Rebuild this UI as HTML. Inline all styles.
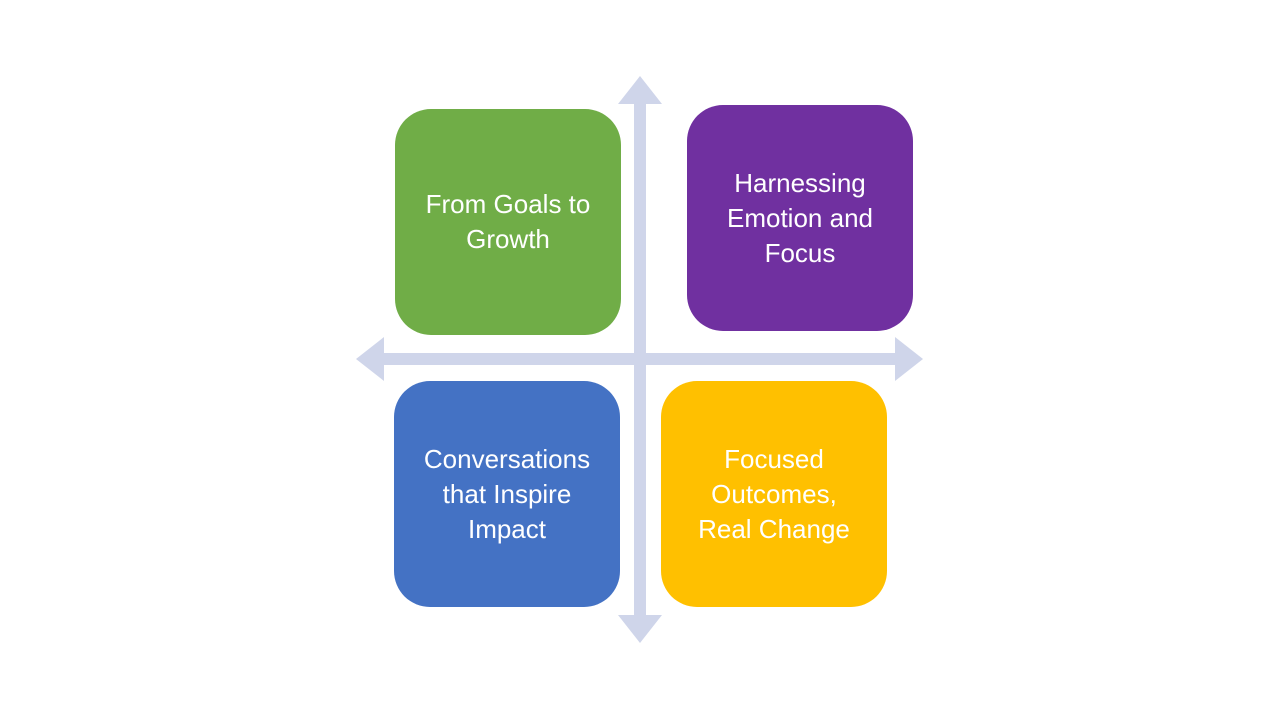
<!DOCTYPE html>
<html><head><style>
body{margin:0;width:1280px;height:720px;background:#fff;position:relative;overflow:hidden;font-family:"Liberation Sans",sans-serif}
.b{position:absolute;width:226px;height:226px;border-radius:36px;color:#fff;display:flex;align-items:center;justify-content:center;text-align:center;font-size:26px;line-height:35px}
</style></head><body>
<svg width="1280" height="720" style="position:absolute;left:0;top:0">
<g fill="#cfd5ea">
<rect x="634" y="100" width="12" height="520"/>
<polygon points="640,76 662,104 618,104"/>
<polygon points="640,643 662,615 618,615"/>
<rect x="380" y="353" width="520" height="12"/>
<polygon points="356,359 384,337 384,381"/>
<polygon points="923,359 895,337 895,381"/>
</g></svg>
<div class="b" style="left:395px;top:109px;background:#70ad47">From Goals to<br>Growth</div>
<div class="b" style="left:687px;top:105px;background:#7030a0">Harnessing<br>Emotion and<br>Focus</div>
<div class="b" style="left:394px;top:381px;background:#4472c4">Conversations<br>that Inspire<br>Impact</div>
<div class="b" style="left:661px;top:381px;background:#ffc000">Focused<br>Outcomes,<br>Real Change</div>
</body></html>
